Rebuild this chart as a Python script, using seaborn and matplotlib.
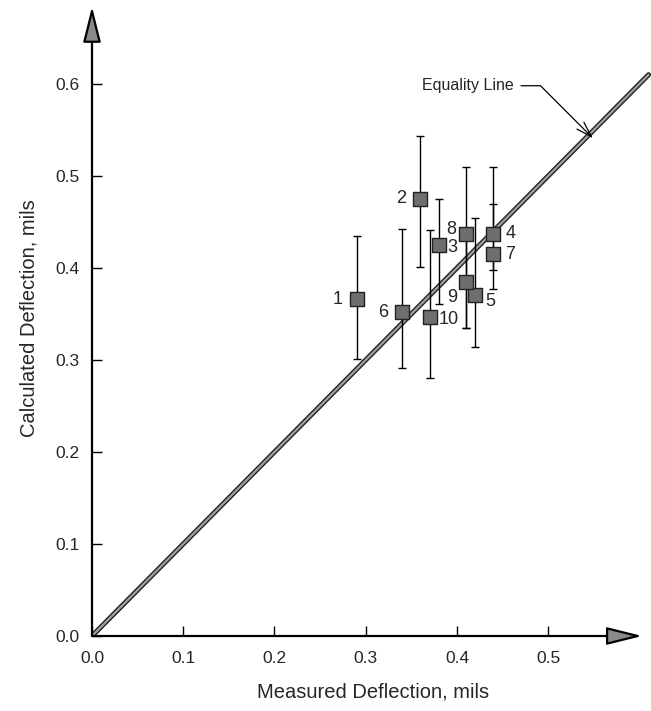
import numpy as np
import pandas as pd
import seaborn as sns
import matplotlib.pyplot as plt

# measured vs calculated deflection (mils), with calculated range per section
section = ['1', '2', '3', '4', '5', '6', '7', '8', '9', '10']
measured = [0.29, 0.36, 0.38, 0.44, 0.42, 0.34, 0.44, 0.41, 0.41, 0.37]
calculated = [0.366, 0.475, 0.425, 0.437, 0.371, 0.352, 0.415, 0.437, 0.385, 0.347]
calc_high = [0.435, 0.543, 0.475, 0.510, 0.454, 0.442, 0.470, 0.510, 0.435, 0.441]
calc_low = [0.301, 0.401, 0.361, 0.377, 0.314, 0.291, 0.398, 0.335, 0.335, 0.280]

# label offsets in points
lab_dx = [-14, -14, 10, 12, 11, -14, 12, -11, -10, 14]
lab_dy = [0, 0, -2, 0, -5, 0, 0, 3, -11, -2]

equality = [0.0, 0.61]

df = pd.DataFrame({'section': section, 'measured': measured, 'calculated': calculated})

sns.set_style('white')
plt.rcParams['font.family'] = ['Liberation Sans', 'DejaVu Sans']

fig = plt.figure(figsize=(6.51, 7.11), dpi=100)
ax = fig.add_axes([92 / 651, 75 / 711, 0.862, 0.893])

# equality line: drawn as a double line
sns.lineplot(x=equality, y=equality, ax=ax, color='#222222', lw=3.6, zorder=2)
sns.lineplot(x=equality, y=equality, ax=ax, color='#a0a0a0', lw=1.6, zorder=3)

yerr = [np.array(calculated) - np.array(calc_low), np.array(calc_high) - np.array(calculated)]
ax.errorbar(measured, calculated, yerr=yerr, fmt='none', ecolor='black',
            elinewidth=1.0, capsize=3, capthick=1.0, zorder=4)

sns.scatterplot(data=df, x='measured', y='calculated', marker='s', s=115,
                color='#6e6e6e', edgecolor='#222222', linewidth=1.0, ax=ax, zorder=5)

for s, x, y, dx, dy in zip(section, measured, calculated, lab_dx, lab_dy):
    ax.annotate(s, (x, y), xytext=(dx, dy), textcoords='offset points',
                ha='center', va='center', fontsize=13, zorder=6)

ax.annotate('Equality Line', xy=(0.549, 0.541), xytext=(0.462, 0.598),
            fontsize=11.5, ha='right', va='center',
            arrowprops=dict(arrowstyle='->,head_width=0.25,head_length=0.8', color='black', lw=0.9,
                            connectionstyle='angle,angleA=0,angleB=-45,rad=0',
                            shrinkA=3, shrinkB=0, mutation_scale=14))

ax.set_xlim(0, 0.615)
ax.set_ylim(0, 0.69)
for sp in ax.spines.values():
    sp.set_visible(False)

# axes drawn as arrows
arrow = dict(arrowstyle='-|>,head_width=0.25,head_length=1.0', ec='black', fc='#8a8a8a',
             lw=1.6, mutation_scale=22, shrinkA=0, shrinkB=0)
ax.annotate('', xy=(0.603, 0), xytext=(0, 0), arrowprops=arrow, annotation_clip=False)
ax.annotate('', xy=(0, 0.684), xytext=(0, 0), arrowprops=arrow, annotation_clip=False)

ax.set_xticks([0.0, 0.1, 0.2, 0.3, 0.4, 0.5])
ax.set_yticks([0.0, 0.1, 0.2, 0.3, 0.4, 0.5, 0.6])
ax.xaxis.set_major_formatter(plt.FormatStrFormatter('%.1f'))
ax.yaxis.set_major_formatter(plt.FormatStrFormatter('%.1f'))
ax.tick_params(axis='both', direction='in', length=7, width=1.0, color='black',
               labelsize=12.5)
ax.tick_params(axis='x', bottom=True, pad=11)
ax.tick_params(axis='y', left=True, pad=9)

ax.set_xlabel('Measured Deflection, mils', fontsize=14.5, labelpad=12)
ax.set_ylabel('Calculated Deflection, mils', fontsize=14.5, labelpad=12)
ax.grid(False)

fig.savefig('out.png', dpi=100)
